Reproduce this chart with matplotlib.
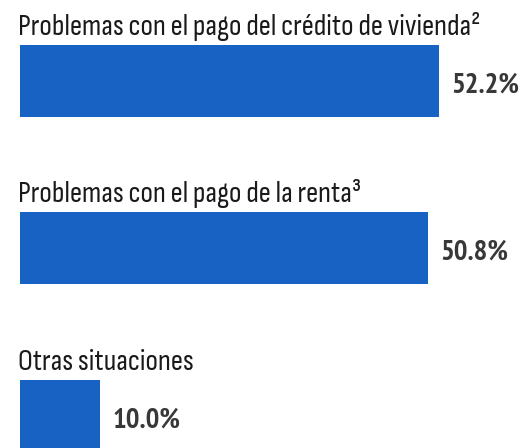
import matplotlib
matplotlib.use("Agg")
import matplotlib.pyplot as plt

categories = ["Problemas con el pago del crédito de vivienda²",
              "Problemas con el pago de la renta³",
              "Otras situaciones"]
values = [52.2, 50.8, 10.0]
value_labels = ["52.2%", "50.8%", "10.0%"]

plt.rcParams['font.family'] = ["Sofia Sans Condensed", "PT Sans Narrow", "DejaVu Sans"]
value_family = ["PT Sans Narrow", "DejaVu Sans"]

W, H = 526, 448
fig = plt.figure(figsize=(W / 100, H / 100), dpi=100)
ax = fig.add_axes([0, 0, 1, 1])

pxu = 8.03  # px per percent
ax.set_xlim(-20 / pxu, (W - 20) / pxu)
spacing = 167.5
ax.set_ylim(-81 / spacing + H / spacing, -81 / spacing)

bar_h = 72 / spacing
ypos = list(range(len(values)))
ax.barh(ypos, values, height=bar_h, color="#1762c2", left=0)
ax.axis("off")

renderer = fig.canvas.get_renderer()

def fit_size(text, target_px, weight="normal", family=None):
    kw = {"family": family} if family else {}
    t = fig.text(0, 0, text, fontsize=20, fontweight=weight, **kw)
    w = t.get_window_extent(renderer).width
    t.remove()
    return 20 * target_px / w

title_size = fit_size(categories[0], 462)
value_size = fit_size(value_labels[0], 68, "bold", value_family)

for i, (cat, v, lab) in enumerate(zip(categories, values, value_labels)):
    ax.annotate(cat, xy=(0, i - bar_h / 2), xytext=(-1.2, 7.5), textcoords="offset points",
                ha="left", va="baseline", fontsize=title_size, color="#1a1a1a")
    ax.annotate(lab, xy=(v, i), xytext=(9.0, -8.3), textcoords="offset points",
                ha="left", va="baseline", fontsize=value_size, fontweight="bold",
                family=value_family, color="#383838")

fig.savefig("out.png", dpi=100)
